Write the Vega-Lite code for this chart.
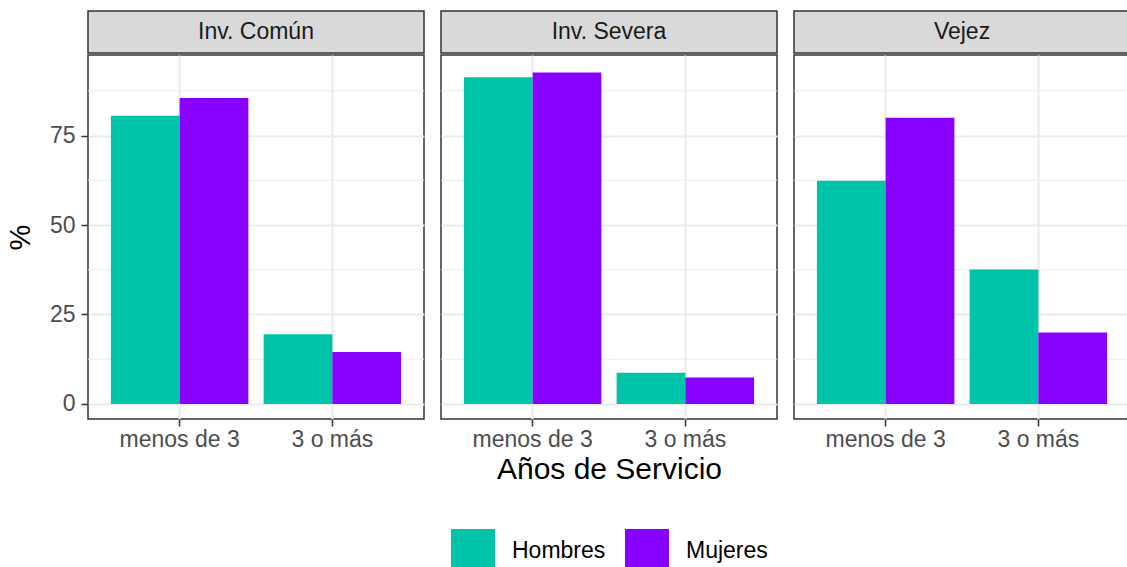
{
  "$schema": "https://vega.github.io/schema/vega-lite/v6.json",
  "padding": {"left": 5, "top": 10, "right": 0, "bottom": 0},
  "background": "white",
  "data": {"values": [
    {"panel": "Inv. Común", "anios": "menos de 3", "sexo": "Hombres", "pct": 80.5},
    {"panel": "Inv. Común", "anios": "menos de 3", "sexo": "Mujeres", "pct": 85.5},
    {"panel": "Inv. Común", "anios": "3 o más", "sexo": "Hombres", "pct": 19.5},
    {"panel": "Inv. Común", "anios": "3 o más", "sexo": "Mujeres", "pct": 14.5},
    {"panel": "Inv. Severa", "anios": "menos de 3", "sexo": "Hombres", "pct": 91.3},
    {"panel": "Inv. Severa", "anios": "menos de 3", "sexo": "Mujeres", "pct": 92.6},
    {"panel": "Inv. Severa", "anios": "3 o más", "sexo": "Hombres", "pct": 8.7},
    {"panel": "Inv. Severa", "anios": "3 o más", "sexo": "Mujeres", "pct": 7.4},
    {"panel": "Vejez", "anios": "menos de 3", "sexo": "Hombres", "pct": 62.4},
    {"panel": "Vejez", "anios": "menos de 3", "sexo": "Mujeres", "pct": 80.0},
    {"panel": "Vejez", "anios": "3 o más", "sexo": "Hombres", "pct": 37.6},
    {"panel": "Vejez", "anios": "3 o más", "sexo": "Mujeres", "pct": 20.0}
  ]},
  "spacing": 13,
  "resolve": {"scale": {"color": "independent"}, "legend": {"color": "independent"}},
  "hconcat": [
    {
      "spacing": 0,
      "vconcat": [
        {
          "width": 336, "height": 42,
          "view": {"fill": "#D9D9D9", "stroke": "#333333", "strokeWidth": 1.5},
          "transform": [{"filter": "datum.panel === 'Inv. Común'"}, {"aggregate": [{"op": "count", "as": "n"}], "groupby": ["panel"]}],
          "mark": {"type": "text", "fontSize": 23, "color": "#1A1A1A"},
          "encoding": {"text": {"field": "panel"}}
        },
        {
          "width": 336, "height": 364,
          "layer": [
            {
              "data": {"values": [{"minor": 12.5}, {"minor": 37.5}, {"minor": 62.5}, {"minor": 87.5}]},
              "mark": {"type": "rule", "color": "#EBEBEB", "strokeWidth": 1},
              "encoding": {"y": {"field": "minor", "type": "quantitative", "scale": {"domain": [-4.2, 97.5], "nice": false, "zero": false}, "axis": {"title": "%", "values": [0, 25, 50, 75], "labelPadding": 6, "titlePadding": 14}}}
            },
            {
              "transform": [{"filter": "datum.panel === 'Inv. Común'"}],
              "mark": {"type": "bar"},
              "encoding": {
                "x": {"field": "anios", "type": "nominal", "sort": ["menos de 3", "3 o más"], "scale": {"paddingInner": 0.1, "paddingOuter": 0.15}, "axis": {"title": null, "labelAngle": 0, "bandPosition": 0.5, "grid": true, "labelPadding": 2}},
                "xOffset": {"field": "sexo", "type": "nominal", "sort": ["Hombres", "Mujeres"], "scale": {"paddingInner": 0, "paddingOuter": 0}},
                "y": {"field": "pct", "type": "quantitative", "scale": {"domain": [-4.2, 97.5], "nice": false, "zero": false}, "axis": {"title": "%", "values": [0, 25, 50, 75], "labelPadding": 6, "titlePadding": 14}},
                "color": {"field": "sexo", "type": "nominal", "scale": {"domain": ["Hombres", "Mujeres"], "range": ["#00C4AA", "#8800FF"]}, "legend": null}
              }
            }
          ]
        }
      ]
    },
    {
      "spacing": 0,
      "vconcat": [
        {
          "width": 336, "height": 42,
          "view": {"fill": "#D9D9D9", "stroke": "#333333", "strokeWidth": 1.5},
          "transform": [{"filter": "datum.panel === 'Inv. Severa'"}, {"aggregate": [{"op": "count", "as": "n"}], "groupby": ["panel"]}],
          "mark": {"type": "text", "fontSize": 23, "color": "#1A1A1A"},
          "encoding": {"text": {"field": "panel"}}
        },
        {
          "width": 336, "height": 364,
          "layer": [
            {
              "data": {"values": [{"minor": 12.5}, {"minor": 37.5}, {"minor": 62.5}, {"minor": 87.5}]},
              "mark": {"type": "rule", "color": "#EBEBEB", "strokeWidth": 1},
              "encoding": {"y": {"field": "minor", "type": "quantitative", "scale": {"domain": [-4.2, 97.5], "nice": false, "zero": false}, "axis": {"title": null, "values": [0, 25, 50, 75], "labels": false, "ticks": false}}}
            },
            {
              "transform": [{"filter": "datum.panel === 'Inv. Severa'"}],
              "mark": {"type": "bar"},
              "encoding": {
                "x": {"field": "anios", "type": "nominal", "sort": ["menos de 3", "3 o más"], "scale": {"paddingInner": 0.1, "paddingOuter": 0.15}, "axis": {"title": "Años de Servicio", "labelAngle": 0, "bandPosition": 0.5, "grid": true, "labelPadding": 2, "titlePadding": 3, "titleFontSize": 30}},
                "xOffset": {"field": "sexo", "type": "nominal", "sort": ["Hombres", "Mujeres"], "scale": {"paddingInner": 0, "paddingOuter": 0}},
                "y": {"field": "pct", "type": "quantitative", "scale": {"domain": [-4.2, 97.5], "nice": false, "zero": false}, "axis": {"title": null, "values": [0, 25, 50, 75], "labels": false, "ticks": false}},
                "color": {"field": "sexo", "type": "nominal", "scale": {"domain": ["Hombres", "Mujeres"], "range": ["#00C4AA", "#8800FF"]}, "legend": {"title": null}}
              }
            }
          ]
        }
      ]
    },
    {
      "spacing": 0,
      "vconcat": [
        {
          "width": 336, "height": 42,
          "view": {"fill": "#D9D9D9", "stroke": "#333333", "strokeWidth": 1.5},
          "transform": [{"filter": "datum.panel === 'Vejez'"}, {"aggregate": [{"op": "count", "as": "n"}], "groupby": ["panel"]}],
          "mark": {"type": "text", "fontSize": 23, "color": "#1A1A1A"},
          "encoding": {"text": {"field": "panel"}}
        },
        {
          "width": 336, "height": 364,
          "layer": [
            {
              "data": {"values": [{"minor": 12.5}, {"minor": 37.5}, {"minor": 62.5}, {"minor": 87.5}]},
              "mark": {"type": "rule", "color": "#EBEBEB", "strokeWidth": 1},
              "encoding": {"y": {"field": "minor", "type": "quantitative", "scale": {"domain": [-4.2, 97.5], "nice": false, "zero": false}, "axis": {"title": null, "values": [0, 25, 50, 75], "labels": false, "ticks": false}}}
            },
            {
              "transform": [{"filter": "datum.panel === 'Vejez'"}],
              "mark": {"type": "bar"},
              "encoding": {
                "x": {"field": "anios", "type": "nominal", "sort": ["menos de 3", "3 o más"], "scale": {"paddingInner": 0.1, "paddingOuter": 0.15}, "axis": {"title": null, "labelAngle": 0, "bandPosition": 0.5, "grid": true, "labelPadding": 2}},
                "xOffset": {"field": "sexo", "type": "nominal", "sort": ["Hombres", "Mujeres"], "scale": {"paddingInner": 0, "paddingOuter": 0}},
                "y": {"field": "pct", "type": "quantitative", "scale": {"domain": [-4.2, 97.5], "nice": false, "zero": false}, "axis": {"title": null, "values": [0, 25, 50, 75], "labels": false, "ticks": false}},
                "color": {"field": "sexo", "type": "nominal", "scale": {"domain": ["Hombres", "Mujeres"], "range": ["#00C4AA", "#8800FF"]}, "legend": null}
              }
            }
          ]
        }
      ]
    }
  ],
  "config": {
    "font": "Liberation Sans",
    "view": {"stroke": "#333333", "strokeWidth": 1.5},
    "axis": {
      "domain": false,
      "gridColor": "#EBEBEB",
      "gridWidth": 2,
      "tickColor": "#333333",
      "tickWidth": 1.5,
      "tickSize": 7,
      "labelFont": "Liberation Sans",
      "labelFontSize": 23,
      "labelColor": "#4D4D4D",
      "titleFont": "Liberation Sans",
      "titleFontSize": 29,
      "titleColor": "#000000",
      "titleFontWeight": "normal"
    },
    "legend": {
      "orient": "bottom",
      "direction": "horizontal",
      "symbolType": "square",
      "symbolSize": 1936,
      "symbolStrokeWidth": 0,
      "symbolOpacity": 1,
      "labelFontSize": 23,
      "labelColor": "#000000",
      "labelOffset": 17,
      "columnPadding": 19,
      "offset": 44,
      "layout": {"bottom": {"anchor": "middle"}}
    }
  }
}
